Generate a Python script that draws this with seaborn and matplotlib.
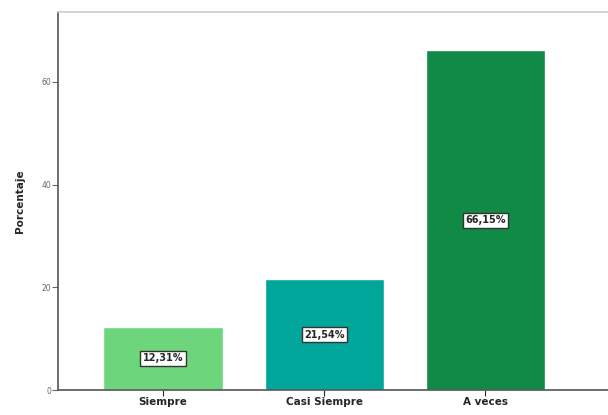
import matplotlib
matplotlib.use("Agg")
import matplotlib.pyplot as plt
import seaborn as sns
import pandas as pd

categories = ["Siempre", "Casi Siempre", "A veces"]
values = [12.31, 21.54, 66.15]
labels = ["12,31%", "21,54%", "66,15%"]
colors = ["#6dd67c", "#00a69a", "#108a45"]

sns.set_style("white")
plt.rcParams['font.family'] = ['DejaVu Sans']

df = pd.DataFrame({"cat": categories, "val": values})
fig = plt.figure(figsize=(6.08, 4.15), dpi=100)
ax = fig.add_axes([0.0954, 0.0602, 0.9046, 0.9109])
sns.barplot(data=df, x="cat", y="val", hue="cat", palette=colors, width=0.74,
            legend=False, ax=ax, saturation=1)

ax.set_xlim(-0.652, 2.76)
ax.set_ylim(0, 73.6)
ax.set_yticks([0, 20, 40, 60])
ax.tick_params(axis='y', labelsize=5.5, colors='#666666', length=4, width=0.8, direction='out', left=True, pad=1)
ax.tick_params(axis='x', labelsize=7.5, length=4, width=0.8, direction='out', bottom=True, pad=1)
for t in ax.get_xticklabels():
    t.set_fontweight('bold')
ax.set_xlabel("")
ax.set_ylabel("Porcentaje", fontsize=7.5, fontweight='bold', labelpad=12)

for s in ["left", "bottom"]:
    ax.spines[s].set_color("#555555")
    ax.spines[s].set_linewidth(1.2)
ax.spines["top"].set_color("#cccccc")
ax.spines["top"].set_linewidth(1.2)
ax.spines["right"].set_visible(False)

for i, (v, lab) in enumerate(zip(values, labels)):
    ax.text(i, v / 2, lab, ha='center', va='center', fontsize=7, fontweight='bold',
            bbox=dict(boxstyle='square,pad=0.25', facecolor='white', edgecolor='#333333', linewidth=1))

fig.savefig("out.png", dpi=100)
